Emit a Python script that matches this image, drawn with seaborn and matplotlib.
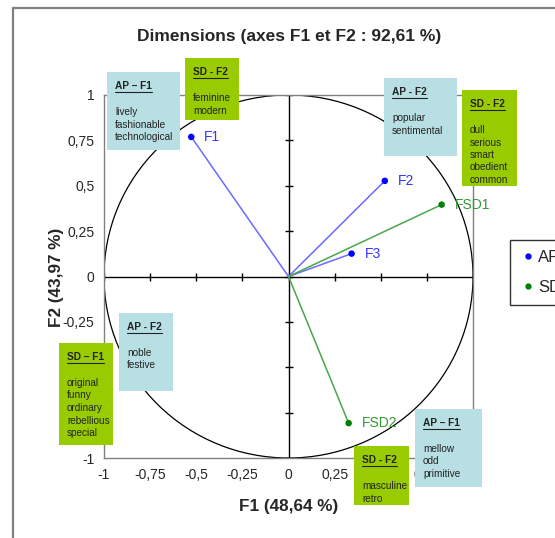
import numpy as np
import pandas as pd
import matplotlib
matplotlib.use("Agg")
import matplotlib.pyplot as plt
import seaborn as sns
from matplotlib.patches import Rectangle, Circle
from matplotlib.lines import Line2D

# points of the correlation circle
ap_labels = ["F1", "F2", "F3"]
ap_x = [-0.527, 0.522, 0.342]
ap_y = [0.769, 0.527, 0.126]
sd_labels = ["FSD1", "FSD2"]
sd_x = [0.83, 0.326]
sd_y = [0.396, -0.808]

tick_values = [-1, -0.75, -0.5, -0.25, 0, 0.25, 0.5, 0.75, 1]
tick_labels = ["-1", "-0,75", "-0,5", "-0,25", "0", "0,25", "0,5", "0,75", "1"]

title = "Dimensions (axes F1 et F2 : 92,61 %)"
xlabel = "F1 (48,64 %)"
ylabel = "F2 (43,97 %)"

# annotation boxes: header, words, kind, pixel rect (x0, y0, x1, y1)
boxes = [
    ("AP \u2013 F1", ["lively", "fashionable", "technological"], "AP", (107, 72, 180, 150)),
    ("SD - F2", ["feminine", "modern"], "SD", (185, 58, 239, 120)),
    ("AP - F2", ["popular", "sentimental"], "AP", (384, 78, 457, 156)),
    ("SD - F2", ["dull", "serious", "smart", "obedient", "common"], "SD", (462, 90, 517, 186)),
    ("AP - F2", ["noble", "festive"], "AP", (119, 313, 173, 391)),
    ("SD \u2013 F1", ["original", "funny", "ordinary", "rebellious", "special"], "SD", (59, 343, 113, 445)),
    ("AP \u2013 F1", ["mellow", "odd", "primitive"], "AP", (415, 409, 482, 487)),
    ("SD - F2", ["masculine", "retro"], "SD", (354, 446, 409, 505)),
]

box_colors = {"AP": "#b8e0e4", "SD": "#99cc00"}
dot_colors = {"AP": "#0000ff", "SD": "#008000"}
line_colors = {"AP": "#6b6bff", "SD": "#4aa64a"}
text_colors = {"AP": "#3333ff", "SD": "#339933"}

df = pd.DataFrame({
    "label": ap_labels + sd_labels,
    "x": ap_x + sd_x,
    "y": ap_y + sd_y,
    "group": ["AP"] * len(ap_labels) + ["SD"] * len(sd_labels),
})

sns.set_style("white")
plt.rcParams["font.family"] = ["Liberation Sans", "DejaVu Sans"]

W, H = 555, 538
fig = plt.figure(figsize=(W / 100, H / 100), dpi=100)


def fx(px):
    return px / W


def fy(py):
    return 1 - py / H


ax = fig.add_axes([fx(104), fy(458), fx(473) - fx(104), fy(95) - fy(458)])

# unit circle
ax.add_patch(Circle((0, 0), 1, fill=False, edgecolor="black", lw=0.9, zorder=1))

# center axes with cross ticks
ax.axhline(0, color="black", lw=1, zorder=1)
ax.axvline(0, color="black", lw=1, zorder=1)
ax.scatter(tick_values, [0] * len(tick_values), marker="|", s=40, color="black", lw=1, zorder=1)
ax.scatter([0] * len(tick_values), tick_values, marker="_", s=40, color="black", lw=1, zorder=1)

# vectors from origin
for _, r in df.iterrows():
    ax.plot([0, r["x"]], [0, r["y"]], color=line_colors[r["group"]], lw=1.1, zorder=2)

sns.scatterplot(data=df, x="x", y="y", hue="group", palette=dot_colors,
                s=22, edgecolor="none", legend=False, ax=ax, zorder=3)

for _, r in df.iterrows():
    ax.annotate(r["label"], (r["x"], r["y"]), xytext=(13, 0), textcoords="offset pixels",
                ha="left", va="center", fontsize=10, color=text_colors[r["group"]])

ax.set_xlim(-1, 1)
ax.set_ylim(-1, 1)
ax.set_xticks(tick_values)
ax.set_xticklabels(tick_labels)
ax.set_yticks(tick_values)
ax.set_yticklabels(tick_labels)
ax.tick_params(axis="both", length=0, labelsize=10, pad=7)
for s in ax.spines.values():
    s.set_color("#808080")
    s.set_linewidth(1)
ax.set_xlabel("")
ax.set_ylabel("")

fig.text(fx(289), fy(36), title, ha="center", va="center", fontsize=12.5, fontweight="bold")
fig.text(fx(289), fy(506), xlabel, ha="center", va="center", fontsize=12.3, fontweight="bold")
fig.text(fx(56), fy(277), ylabel, ha="center", va="center", rotation=90, fontsize=12.3, fontweight="bold")

# outer chart border
fig.add_artist(Rectangle((fx(13), fy(600)), 1, fy(8) - fy(600), transform=fig.transFigure,
                         fill=False, edgecolor="#808080", lw=1.6, zorder=0.5))

# annotation boxes
renderer = fig.canvas.get_renderer()
for header, words, kind, (x0, y0, x1, y1) in boxes:
    fig.add_artist(Rectangle((fx(x0), fy(y1)), fx(x1) - fx(x0), fy(y0) - fy(y1),
                             transform=fig.transFigure, facecolor=box_colors[kind],
                             edgecolor="none", zorder=5))
    ht = fig.text(fx(x0 + 8), fy(y0 + 14), header, ha="left", va="center", fontsize=7.3,
                  fontweight="bold", color="#222222", zorder=6)
    bb = ht.get_window_extent(renderer)
    fig.add_artist(Line2D([bb.x0 / W, bb.x1 / W], [(bb.y0 - 1) / H, (bb.y0 - 1) / H],
                          transform=fig.transFigure, color="#222222", lw=0.8, zorder=6))
    for i, w in enumerate(words):
        fig.text(fx(x0 + 8), fy(y0 + 40 + 12.5 * i), w, ha="left", va="center",
                 fontsize=7.2, color="#222222", zorder=6)

# legend, partly cut off at the right edge as in the source
handles = [Line2D([], [], marker="o", ls="none", markersize=3.5, color=dot_colors[g]) for g in ["AP", "SD"]]
leg = fig.legend(handles, ["AP", "SD"], loc="upper left", bbox_to_anchor=(fx(510), fy(240)),
                 frameon=True, fancybox=False, edgecolor="black", fontsize=12,
                 handletextpad=0.1, handlelength=1.0, labelspacing=0.9, borderpad=0.6,
                 borderaxespad=0)
leg.get_frame().set_linewidth(1)

fig.savefig("out.png", dpi=100)
